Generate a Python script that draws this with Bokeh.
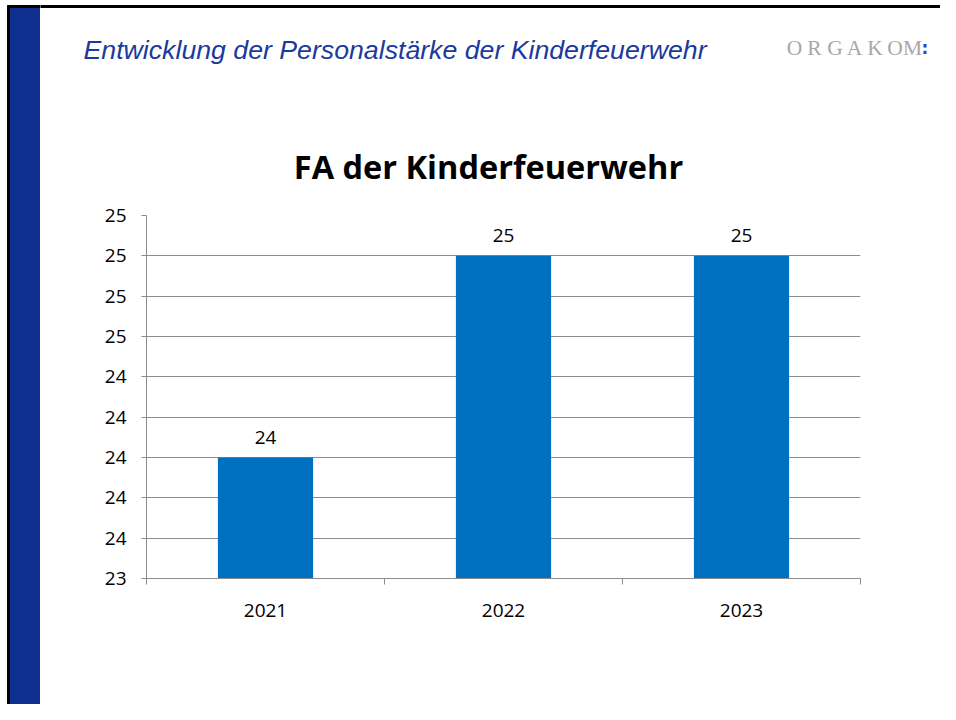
from bokeh.plotting import figure
from bokeh.layouts import row, column
from bokeh.models import Range1d, FixedTicker, LabelSet, ColumnDataSource
from bokeh.core.properties import value
from bokeh.embed import file_html
from bokeh.resources import INLINE

# ---- data ----
years = ["2021", "2022", "2023"]
counts = [24, 25, 25]
count_labels = ["24", "25", "25"]
y_ticks = [23.4, 23.6, 23.8, 24.0, 24.2, 24.4, 24.6, 24.8, 25.0, 25.2]
y_tick_labels = ["23", "24", "24", "24", "24", "24", "25", "25", "25", "25"]
header_title = "Entwicklung der Personalstärke der Kinderfeuerwehr"
brand_letters = ["O", "R", "G", "A", "K", "O", "M"]
brand_mark = ":"
chart_title = "FA der Kinderfeuerwehr"

SLIDE_BLUE = "#0F2F8F"
TEXT_BLUE = "#1A3A9C"
BAR_BLUE = "#0070C0"
GRID = "#8C8C8C"
TICK_FONT = "Open Sans"

# ---- page geometry (pixels) ----
W, H = 940, 704
BAND_W = 40
HEAD_H = 190
FL, FR, FT, FB = 146, 860, 215, 578   # chart frame in page pixels


def bare(w, h, xr, yr):
    f = figure(width=w, height=h, x_range=xr, y_range=yr, output_backend="svg",
               toolbar_location=None, x_axis_type=None, y_axis_type=None,
               min_border=0, background_fill_color="white", border_fill_color="white")
    f.outline_line_color = None
    f.grid.visible = False
    return f


# ---- left slide band ----
band = bare(BAND_W, H, Range1d(0, BAND_W), Range1d(H, 0))
band.quad(left=[7], right=[10], top=[5], bottom=[H], color="black")
band.quad(left=[10], right=[BAND_W], top=[7], bottom=[H], color=SLIDE_BLUE)
band.quad(left=[7], right=[BAND_W], top=[5], bottom=[7], color="black")

# ---- header ----
head = bare(W - BAND_W, HEAD_H, Range1d(BAND_W, W), Range1d(HEAD_H, 0))
head.quad(left=[BAND_W], right=[W], top=[5], bottom=[7], color="black")
head.text(x=[83], y=[49], text=[header_title], text_font=value("Liberation Sans"),
          text_font_style="italic", text_font_size="26.7px", text_color=TEXT_BLUE,
          text_baseline="alphabetic", text_align="left")
brand_x = [794, 814, 834.5, 854, 874.5, 894.5, 912]
head.text(x=brand_x, y=[47] * len(brand_x), text=brand_letters,
          text_font=value("Liberation Serif"), text_font_size="21.5px",
          text_color="#A8A8A8", text_baseline="alphabetic", text_align="center")
head.text(x=[924.5], y=[47.5], text=[brand_mark], text_font=value("DejaVu Sans"),
          text_font_style="bold", text_font_size="17px", text_color="#3040D0",
          text_baseline="alphabetic", text_align="center")
head.text(x=[488], y=[166], text=[chart_title], text_font=value("Open Sans"),
          text_font_style="bold", text_font_size="32.5px", text_color="black",
          text_baseline="alphabetic", text_align="center")

# ---- chart ----
x0, x1 = 0, len(years)
y0, y1 = y_ticks[0], y_ticks[-1]
centers = [i + 0.5 for i in range(len(years))]
src = ColumnDataSource(dict(x=centers, top=counts, lab=count_labels))

p = figure(width=W - BAND_W, height=H - HEAD_H, x_range=Range1d(x0, x1),
           y_range=Range1d(y0, y1), output_backend="svg", toolbar_location=None,
           min_border_left=FL - BAND_W, min_border_right=W - FR,
           min_border_top=FT - HEAD_H, min_border_bottom=H - FB,
           background_fill_color="white", border_fill_color="white")
p.outline_line_color = None

p.vbar(x="x", top="top", bottom=y0, width=0.4, source=src,
       fill_color=BAR_BLUE, line_color=None)

p.add_layout(LabelSet(x="x", y="top", text="lab", source=src, y_offset=14,
                      text_align="center", text_baseline="alphabetic",
                      text_font=value(TICK_FONT), text_font_size="19px",
                      text_color="black"))

xa = p.xaxis[0]
xa.ticker = FixedTicker(ticks=centers, minor_ticks=list(range(len(years) + 1)))
xa.major_label_overrides = {c: y for c, y in zip(centers, years)}
xa.major_tick_out = 0
xa.major_tick_in = 0
xa.minor_tick_out = 6
xa.minor_tick_in = 0
xa.minor_tick_line_color = GRID
xa.axis_line_color = GRID
xa.major_label_standoff = 19
xa.major_label_text_font = TICK_FONT
xa.major_label_text_font_size = "19px"
xa.major_label_text_color = "black"

ya = p.yaxis[0]
ya.ticker = FixedTicker(ticks=y_ticks)
ya.major_label_overrides = {t: l for t, l in zip(y_ticks, y_tick_labels)}
ya.major_tick_out = 5
ya.major_tick_in = 0
ya.minor_tick_line_color = None
ya.major_tick_line_color = GRID
ya.axis_line_color = GRID
ya.major_label_standoff = 15
ya.major_label_text_font = TICK_FONT
ya.major_label_text_font_size = "19px"
ya.major_label_text_color = "black"

p.xgrid.visible = False
p.ygrid.ticker = FixedTicker(ticks=y_ticks)
p.ygrid.grid_line_color = GRID
p.ygrid.grid_line_width = 1

layout = row(band, column(row(head), row(p)))

open("out.html", "w").write(file_html(layout, INLINE))
